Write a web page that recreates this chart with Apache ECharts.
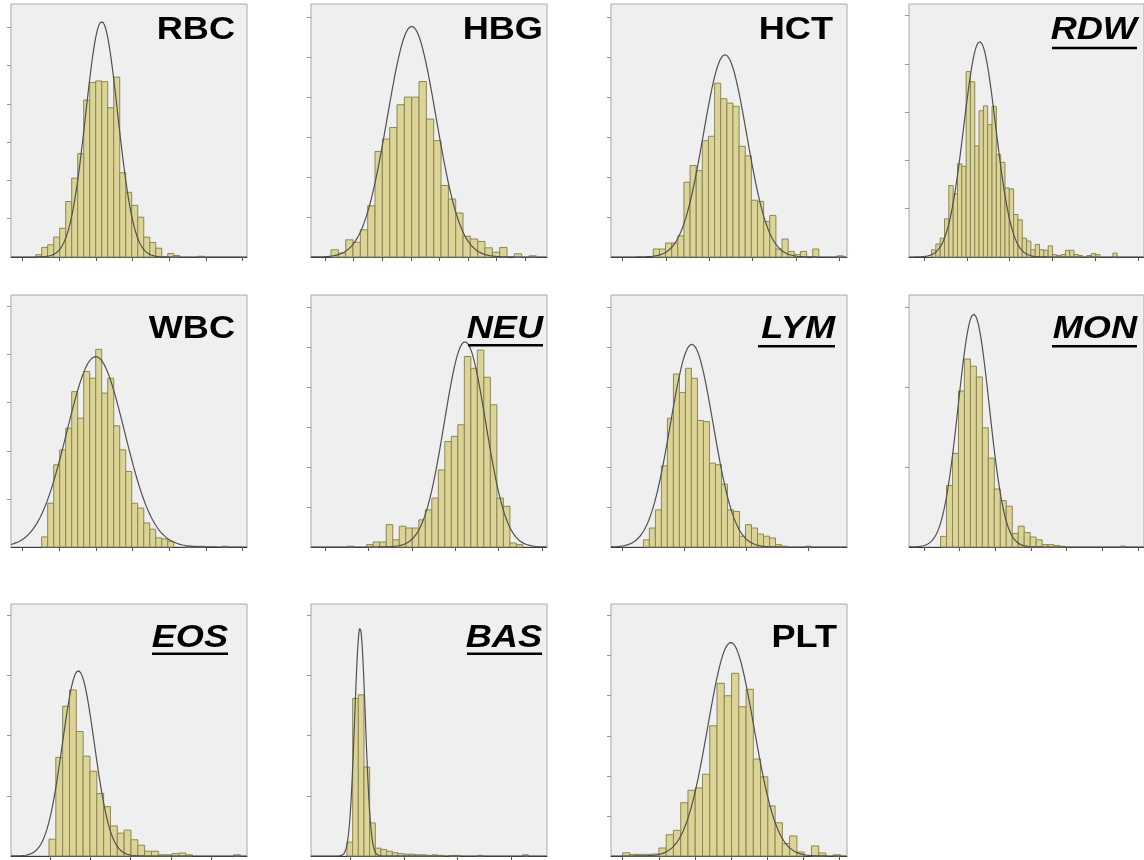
<!DOCTYPE html>
<html>
<head>
<meta charset="utf-8">
<script src="https://cdn.jsdelivr.net/npm/echarts@6/dist/echarts.min.js"></script>
<style>
html,body{margin:0;padding:0;background:#fff}
#chart{width:1144px;height:860px}
</style>
</head>
<body>
<div id="chart"></div>
<script>
// histogram counts per bin (bin width = 1 axis unit)
var rbcCounts = [0.6, 2.5, 3.2, 5.2, 7.5, 14.5, 20.6, 27, 41, 45.6, 46, 45.8, 39, 47, 22, 16.9, 13.5, 10.4, 5.2, 3.8, 2.3, 0, 0.9, 0.4, 0, 0, 0, 0.2];
var hbgCounts = [1.8, 1.0, 4.3, 3.7, 6.8, 12.8, 26.4, 29.5, 32.4, 38.1, 40, 40, 43.9, 34.5, 29.1, 17.9, 14.5, 11, 5.2, 4.5, 3.9, 2.3, 1.2, 2.4, 0, 0.8, 0, 0.3];
var hctCounts = [2.0, 2.0, 3.5, 3.5, 5.3, 18.7, 22.9, 21.6, 29.1, 30.2, 43.5, 39.6, 38.5, 37.7, 27.7, 25.3, 14.2, 13.9, 8.9, 10.4, 2.0, 4.5, 1.4, 0.6, 1.4, 0, 2.0, 0, 0, 0, 0.3];
var rdwCounts = [1.5, 2.7, 3.9, 7.9, 14.8, 13.1, 19.3, 18.8, 38.4, 36.3, 23.0, 30.3, 31.3, 27.4, 31.2, 21.2, 19.6, 14.3, 14.1, 8.8, 7.7, 3.9, 3.3, 1.5, 2.6, 1.5, 1.4, 2.3, 0.5, 0.3, 0.5, 1.4, 1.4, 0.5, 0.3, 0, 0.3, 0.7, 0.5, 0, 0, 0, 0.8];
var wbcCounts = [2.1, 9.1, 17.1, 20.2, 24.7, 32.3, 26.8, 36.5, 35.1, 41.1, 32.0, 35.1, 25.2, 20.2, 15.7, 9.1, 8.1, 5.0, 3.7, 1.9, 1.7, 1.2, 0, 0, 0.15, 0.15, 0.15, 0, 0, 0, 0.15];
var neuCounts = [0.2, 0, 0, 0.6, 1.25, 1.25, 5.6, 1.8, 5.2, 4.75, 4.75, 6.8, 9.3, 12.25, 19.3, 26.4, 27.7, 30.6, 47.7, 44.75, 49.3, 42.5, 35.6, 12.25, 10.2, 1.0, 0.6];
var lymCounts = [1.8, 4.75, 9.3, 20.3, 32.25, 43.3, 38.7, 44.75, 42.25, 31.7, 31.4, 21, 20.6, 15.75, 9.3, 8.9, 2.7, 5.6, 4.75, 3.25, 2.7, 2.25, 0.6, 0.2, 0, 0, 0, 0.2];
var monCounts = [1.33, 7.7, 11.7, 19.5, 23.5, 22.6, 21.25, 14.9, 11.1, 7.25, 5.8, 5.1, 1.7, 2.6, 1.8, 1.25, 0.9, 0.3, 0.3, 0.17, 0.08, 0, 0, 0, 0, 0, 0, 0, 0, 0, 0.1];
var eosCounts = [2.8, 16.4, 24.9, 27.6, 20.7, 16.6, 14.1, 10.4, 8.2, 5.0, 3.8, 4.3, 2.7, 1.8, 0.8, 0.8, 0.2, 0.2, 0.4, 0.5, 0.2, 0, 0, 0, 0, 0, 0, 0.2];
var basCounts = [2.3, 26.2, 26.8, 14.8, 5.5, 1.3, 1.1, 0.8, 0.55, 0.4, 0.3, 0.3, 0.2, 0.2, 0.1, 0.2, 0.1, 0, 0.1, 0.1, 0, 0, 0, 0.1, 0, 0, 0, 0, 0, 0, 0, 0.2];
var pltCounts = [0.8, 0.4, 0.4, 0.4, 0.5, 2.0, 5.3, 6.4, 13.3, 16.4, 17, 20.4, 32.5, 43.1, 40, 45.6, 37.25, 41.6, 24.2, 19.75, 12.5, 8.3, 3.1, 5.0, 1.0, 0, 2.5, 0.75, 0, 0.3];

// fitted normal curve: [mean, sd, peak height]
var rbcCurve = [11.0, 2.67, 61.5];
var hbgCurve = [11.0, 3.32, 57.7];
var hctCurve = [11.7, 3.53, 50.6];
var rdwCurve = [11.15, 3.7, 44.6];
var wbcCurve = [9.0, 4.8, 39.6];
var neuCurve = [18.1, 3.18, 51.4];
var lymCurve = [8.06, 3.56, 50.75];
var monCurve = [5.55, 2.6, 29.1];
var eosCurve = [4.3, 2.34, 30.8];
var basCurve = [2.3, 0.94, 37.9];
var pltCurve = [14.9, 3.17, 53.3];

var titles = ['RBC', 'HBG', 'HCT', 'RDW', 'WBC', 'NEU', 'LYM', 'MON', 'EOS', 'BAS', 'PLT'];
var underlined = ['RDW', 'NEU', 'LYM', 'MON', 'EOS', 'BAS'];

// layout: box = [left, top, width, height], x = axis range, ticks = [first, step]
var panels = [
	{counts: rbcCounts, curve: rbcCurve, box: [11, 4, 236, 253], x: [-4.11, 35.2], ticks: [-2.17, 6.11], yMax: 66.1, tr: 235, ul: null},
	{counts: hbgCounts, curve: hbgCurve, box: [311, 4, 236, 253], x: [-2.73, 29.45], ticks: [-0.82, 3.9], yMax: 63.3, tr: 543, ul: null},
	{counts: hctCounts, curve: hctCurve, box: [611, 4, 236, 253], x: [-6.9, 31.6], ticks: [-5.0, 7.07], yMax: 63.3, tr: 833, ul: null},
	{counts: rdwCounts, curve: rdwCurve, box: [909, 4, 236, 253], x: [-5.23, 49.2], ticks: [-1.77, 9.92], yMax: 52.4, tr: 1137, ul: [1052, 46.7]},
	{counts: wbcCounts, curve: wbcCurve, box: [11, 295, 236, 252], x: [-5.11, 34.2], ticks: [-3.17, 6.11], yMax: 52.4, tr: 235, ul: null},
	{counts: neuCounts, curve: neuCurve, box: [311, 295, 236, 252], x: [-5.56, 30.7], ticks: [-3.41, 6.67], yMax: 63.1, tr: 543, ul: [468, 344]},
	{counts: lymCounts, curve: lymCurve, box: [611, 295, 236, 252], x: [-5.39, 33.9], ticks: [-3.44, 10.3], yMax: 63.1, tr: 835, ul: [758, 345]},
	{counts: monCounts, curve: monCurve, box: [909, 295, 236, 252], x: [-5.28, 34.05], ticks: [-2.78, 5.97], yMax: 31.5, tr: 1137, ul: [1052, 345]},
	{counts: eosCounts, curve: eosCurve, box: [11, 604, 236, 252], x: [-5.56, 28.98], ticks: [0.15, 5.9], yMax: 41.9, tr: 228, ul: [152, 652.5]},
	{counts: basCounts, curve: basCurve, box: [311, 604, 236, 252], x: [-6.35, 35.3], ticks: [0.53, 9.5], yMax: 41.9, tr: 542, ul: [467, 652.5]},
	{counts: pltCounts, curve: pltCurve, box: [611, 604, 236, 252], x: [-1.6, 30.9], ticks: [0, 4.98], yMax: 62.9, tr: 837, ul: null}
];
var titleY = [30, 30, 30, 30, 329, 329, 329, 329, 638.5, 638.5, 638.5];

var grid = [], xAxis = [], yAxis = [], series = [], graphic = [];

function renderBar(params, api){
	var h = api.value(1);
	if(!h) return;
	var p0 = api.coord([api.value(0), 0]);
	var p1 = api.coord([api.value(0) + 1, h]);
	return {
		type: 'rect',
		shape: {x: p0[0], y: p1[1], width: p1[0] - p0[0], height: p0[1] - p1[1]},
		style: {fill: '#dbd496', stroke: '#8c8658', lineWidth: 1}
	};
}

panels.forEach(function(p, i){
	grid.push({
		left: p.box[0], top: p.box[1], width: p.box[2], height: p.box[3],
		show: true, backgroundColor: '#efefef', borderColor: '#a8a8a8', borderWidth: 1
	});
	var xt = [];
	for(var t = p.ticks[0]; t <= p.x[1]; t += p.ticks[1]){ if(t >= p.x[0]) xt.push(t); }
	xAxis.push({
		type: 'value', gridIndex: i, min: p.x[0], max: p.x[1],
		axisLabel: {show: false}, splitLine: {show: false},
		axisLine: {show: true, onZero: false, lineStyle: {color: '#3a3a3a', width: 1}},
		axisTick: {show: true, customValues: xt, length: 4, lineStyle: {color: '#555'}}
	});
	var yt = [];
	for(var v = 10; v <= p.yMax; v += 10) yt.push(v);
	yAxis.push({
		type: 'value', gridIndex: i, min: 0, max: p.yMax,
		axisLabel: {show: false}, splitLine: {show: false},
		axisLine: {show: false, onZero: false},
		axisTick: {show: true, customValues: yt, length: 4, lineStyle: {color: '#999'}}
	});
	series.push({
		type: 'custom', xAxisIndex: i, yAxisIndex: i, silent: true, animation: false,
		data: p.counts.map(function(c, k){ return [k, c]; }),
		renderItem: renderBar, z: 2
	});
	var c = p.curve, pts = [];
	for(var x = p.x[0]; x <= p.x[1]; x += 0.05){
		pts.push([x, c[2] * Math.exp(-0.5 * Math.pow((x - c[0]) / c[1], 2))]);
	}
	series.push({
		type: 'line', xAxisIndex: i, yAxisIndex: i, silent: true, animation: false,
		data: pts, showSymbol: false, symbol: 'none', z: 3,
		lineStyle: {color: '#505050', width: 1.2}
	});
	var ital = underlined.indexOf(titles[i]) >= 0;
	graphic.push({
		type: 'text', x: p.tr, y: titleY[i], scaleX: 1.13, z: 10,
		style: {
			text: titles[i], fill: '#000',
			fontSize: 32, fontWeight: 'bold', fontStyle: ital ? 'italic' : 'normal',
			fontFamily: 'Liberation Sans, Arial, sans-serif',
			align: 'right', verticalAlign: 'middle', textAlign: 'right', textVerticalAlign: 'middle'
		}
	});
	if(p.ul){
		graphic.push({
			type: 'rect', z: 10,
			shape: {x: p.ul[0], y: p.ul[1], width: p.tr - p.ul[0], height: 2.6},
			style: {fill: '#000'}
		});
	}
});

var myChart = echarts.init(document.getElementById('chart'));
myChart.setOption({
	animation: false,
	backgroundColor: '#fff',
	grid: grid,
	xAxis: xAxis,
	yAxis: yAxis,
	series: series,
	graphic: graphic
});
</script>
</body>
</html>
